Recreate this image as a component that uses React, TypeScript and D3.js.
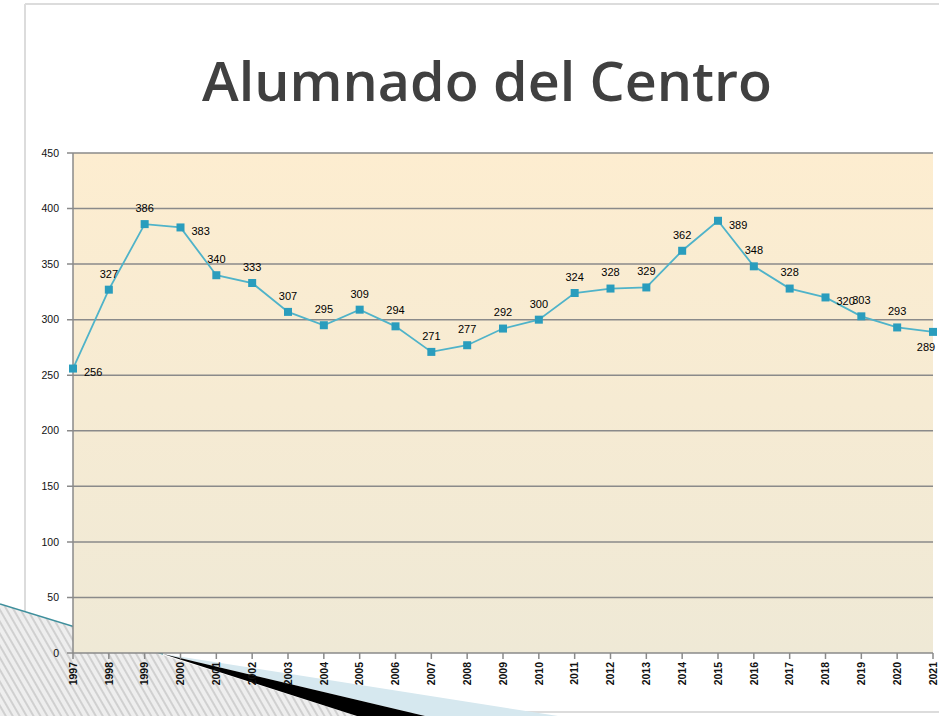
import React from "react";
import * as d3 from "d3";

const years = ["1997","1998","1999","2000","2001","2002","2003","2004","2005","2006","2007","2008","2009","2010","2011","2012","2013","2014","2015","2016","2017","2018","2019","2020","2021"];
const alumnos = [256,327,386,383,340,333,307,295,309,294,271,277,292,300,324,328,329,362,389,348,328,320,303,293,289];
const labelPlacement = ["right","above","above","right","above","above","above","above","above","above","above","above","above","above","above","above","above","above","right","above","above","right","above","above","below"];
const yTicks = [0,50,100,150,200,250,300,350,400,450];
const title = "Alumnado del Centro";

const W = 939, H = 716;
const plot = { left: 73, right: 933, top: 153, bottom: 653 };

export default function App() {
  const x = d3.scalePoint<string>().domain(years).range([plot.left, plot.right]);
  const y = d3.scaleLinear().domain([0, 450]).range([plot.bottom, plot.top]);
  const line = d3.line<number>().x((_, i) => x(years[i])!).y(d => y(d));
  const font = "'Liberation Sans', Arial, sans-serif";

  return (
    <svg width={W} height={H} style={{ position: "absolute", left: 0, top: 0, background: "#fff" }}>
      <defs>
        <linearGradient id="bg" x1="0" y1="0" x2="0" y2="1">
          <stop offset="0" stopColor="#fdedd0" />
          <stop offset="1" stopColor="#efe9d6" />
        </linearGradient>
        <pattern id="hatch" width="6" height="6" patternUnits="userSpaceOnUse" patternTransform="rotate(-30)">
          <rect width="6" height="6" fill="#eeeeee" />
          <line x1="1" y1="0" x2="1" y2="6" stroke="#c9c9c9" strokeWidth="1.6" />
        </pattern>
      </defs>

      {/* frame */}
      <line x1={25} y1={4} x2={W} y2={4} stroke="#dcdcdc" strokeWidth={2} />
      <line x1={25} y1={4} x2={25} y2={612} stroke="#dcdcdc" strokeWidth={2} />
      <line x1={25} y1={712} x2={W} y2={712} stroke="#dcdcdc" strokeWidth={2} />

      {/* decoration */}
      <polygon points="0,604 357,716 0,716" fill="url(#hatch)" />
      <polygon points="163,654 558,716 425,716" fill="#d6e8ef" />
      <polygon points="163,654 357,716 425,716" fill="#000" />
      <line x1={0} y1={604} x2={163} y2={654} stroke="#3f8f9c" strokeWidth={1.5} />

      {/* title */}
      <text x={487} y={101} textAnchor="middle" fontFamily="'Open Sans', sans-serif" fontSize={54} fontWeight={600}
        fill="#404040" textLength={570} lengthAdjust="spacingAndGlyphs">{title}</text>

      {/* plot background */}
      <rect x={plot.left} y={plot.top} width={plot.right - plot.left} height={plot.bottom - plot.top} fill="url(#bg)" />

      {/* gridlines & y axis */}
      {yTicks.map(t => (
        <g key={t}>
          <line x1={plot.left - 6} x2={plot.right} y1={y(t)} y2={y(t)} stroke="#8a8a8a" strokeWidth={1.5} />
          <text x={59} y={y(t)} dy="0.35em" textAnchor="end" fontFamily={font} fontSize={10.5} fill="#111">{t}</text>
        </g>
      ))}
      <line x1={plot.left} x2={plot.left} y1={plot.top} y2={plot.bottom} stroke="#8a8a8a" strokeWidth={1.5} />

      {/* x axis */}
      {years.map(yr => (
        <g key={yr}>
          <line x1={x(yr)} x2={x(yr)} y1={plot.bottom} y2={plot.bottom + 6} stroke="#8a8a8a" strokeWidth={1.5} />
          <text transform={`translate(${x(yr)},${plot.bottom + 9}) rotate(-90)`} dy="0.35em" textAnchor="end"
            fontFamily={font} fontSize={10.5} fontWeight="bold" fill="#111">{yr}</text>
        </g>
      ))}

      {/* series */}
      <path d={line(alumnos) ?? ""} fill="none" stroke="#4fb3c9" strokeWidth={1.8} />
      {alumnos.map((v, i) => (
        <rect key={i} x={x(years[i])! - 4} y={y(v) - 4} width={8} height={8} fill="#2a9dbd" />
      ))}
      {alumnos.map((v, i) => {
        const px = x(years[i])!, py = y(v);
        const p = labelPlacement[i];
        const lx = p === "right" ? px + 11 : Math.min(px, W - 13);
        const ly = p === "right" ? py + 4 : p === "below" ? py + 15 : py - 16;
        return (
          <text key={"l" + i} x={lx} y={ly} dy="0.35em" textAnchor={p === "right" ? "start" : "middle"}
            fontFamily={font} fontSize={11} fill="#000">{v}</text>
        );
      })}
    </svg>
  );
}
